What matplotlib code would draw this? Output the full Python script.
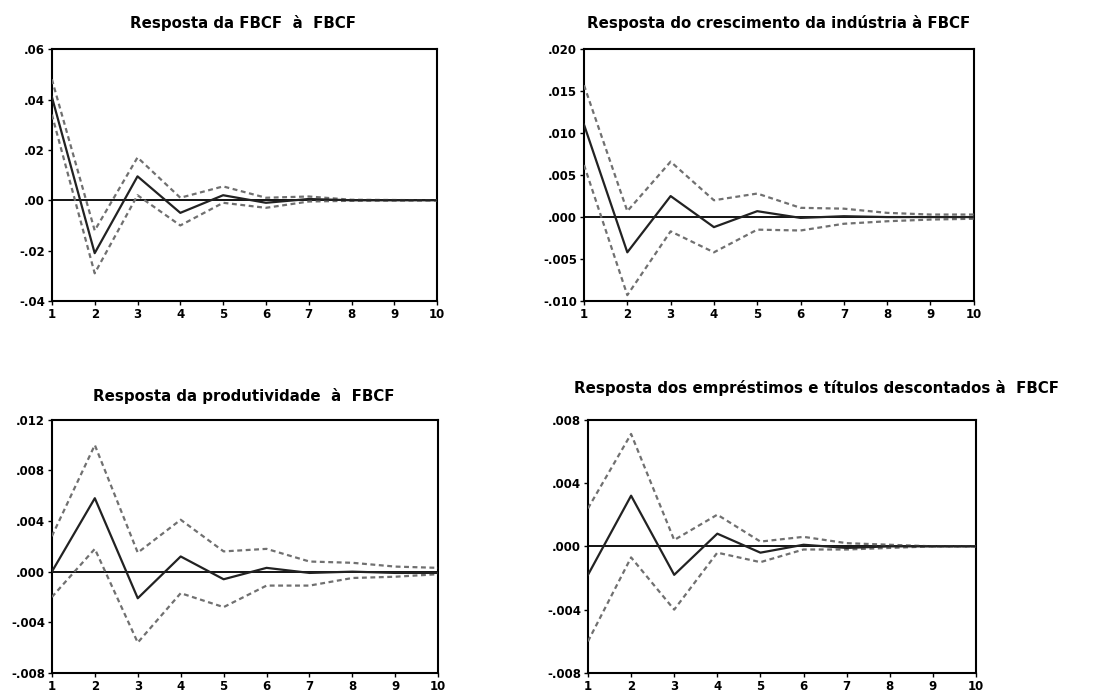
import numpy as np
import matplotlib.pyplot as plt

plt.rcParams['font.family'] = ['DejaVu Sans']
plt.rcParams['font.weight'] = 'bold'

periods = np.arange(1, 11)

# FBCF -> FBCF
fbcf_resp = [0.041, -0.021, 0.0095, -0.005, 0.002, -0.001, 0.0005, 0.0, 0.0, 0.0]
fbcf_up = [0.048, -0.012, 0.017, 0.001, 0.0055, 0.001, 0.0015, 0.0002, 0.0001, 0.0]
fbcf_lo = [0.034, -0.029, 0.002, -0.010, -0.001, -0.003, -0.0005, -0.0002, -0.0001, 0.0]

# industria -> FBCF
ind_resp = [0.011, -0.0042, 0.0025, -0.0012, 0.0007, -0.0001, 0.0001, 0.0, 0.0, 0.0]
ind_up = [0.0157, 0.0007, 0.0066, 0.002, 0.0028, 0.0011, 0.001, 0.0005, 0.0003, 0.0003]
ind_lo = [0.0062, -0.0093, -0.0017, -0.0042, -0.0015, -0.0016, -0.0008, -0.0005, -0.0003, -0.0002]

# produtividade -> FBCF
prod_resp = [0.0, 0.0058, -0.0021, 0.0012, -0.0006, 0.0003, -0.0001, 0.0, -0.0001, -0.0001]
prod_up = [0.0028, 0.010, 0.0015, 0.0041, 0.0016, 0.0018, 0.0008, 0.0007, 0.0004, 0.0003]
prod_lo = [-0.002, 0.0018, -0.0056, -0.0017, -0.0028, -0.0011, -0.0011, -0.0005, -0.0004, -0.0002]

# emprestimos -> FBCF
emp_resp = [-0.0018, 0.0032, -0.0018, 0.0008, -0.0004, 0.0001, -0.0001, 0.0, 0.0, 0.0]
emp_up = [0.0024, 0.0071, 0.0004, 0.002, 0.0003, 0.0006, 0.0002, 0.0001, 0.0, 0.0]
emp_lo = [-0.006, -0.0007, -0.004, -0.0004, -0.001, -0.0002, -0.0002, -0.0001, 0.0, 0.0]

titles = ["Resposta da FBCF  à  FBCF",
          "Resposta do crescimento da indústria à FBCF",
          "Resposta da produtividade  à  FBCF",
          "Resposta dos empréstimos e títulos descontados à  FBCF"]

yticks_tl = [0.06, 0.04, 0.02, 0.00, -0.02, -0.04]
ylabels_tl = [".06", ".04", ".02", ".00", "-.02", "-.04"]
yticks_tr = [0.020, 0.015, 0.010, 0.005, 0.000, -0.005, -0.010]
ylabels_tr = [".020", ".015", ".010", ".005", ".000", "-.005", "-.010"]
yticks_bl = [0.012, 0.008, 0.004, 0.000, -0.004, -0.008]
ylabels_bl = [".012", ".008", ".004", ".000", "-.004", "-.008"]
yticks_br = [0.008, 0.004, 0.000, -0.004, -0.008]
ylabels_br = [".008", ".004", ".000", "-.004", "-.008"]

fig = plt.figure(figsize=(11.04, 6.92), dpi=100)

panels = [
    ([0.047, 0.565, 0.349, 0.364], fbcf_resp, fbcf_up, fbcf_lo, yticks_tl, ylabels_tl, 0.22),
    ([0.529, 0.565, 0.353, 0.364], ind_resp, ind_up, ind_lo, yticks_tr, ylabels_tr, 0.705),
    ([0.047, 0.0275, 0.350, 0.366], prod_resp, prod_up, prod_lo, yticks_bl, ylabels_bl, 0.221),
    ([0.5326, 0.0275, 0.3514, 0.366], emp_resp, emp_up, emp_lo, yticks_br, ylabels_br, 0.74),
]
title_y = [0.967, 0.967, 0.428, 0.44]

for i, (rect, resp, up, lo, yt, yl, tx) in enumerate(panels):
    ax = fig.add_axes(rect)
    ax.axhline(0, color='black', lw=1.3, zorder=2)
    ax.plot(periods, up, color='#707070', lw=1.6, ls=(0, (2.2, 1.6)), zorder=3)
    ax.plot(periods, lo, color='#707070', lw=1.6, ls=(0, (2.2, 1.6)), zorder=3)
    ax.plot(periods, resp, color='#222222', lw=1.6, zorder=4)
    ax.set_xlim(1, 10)
    ax.set_ylim(min(yt), max(yt))
    ax.set_xticks(periods)
    ax.set_xticklabels([str(p) for p in periods], fontsize=8.5, fontweight='bold')
    ax.set_yticks(yt)
    ax.set_yticklabels(yl, fontsize=8.5, fontweight='bold')
    ax.tick_params(direction='out', length=3, width=1, pad=2)
    for s in ax.spines.values():
        s.set_linewidth(1.5)
    fig.text(tx, title_y[i], titles[i], ha='center', va='center',
             fontsize=10.8, fontweight='bold')

fig.savefig('out.png', dpi=100)
